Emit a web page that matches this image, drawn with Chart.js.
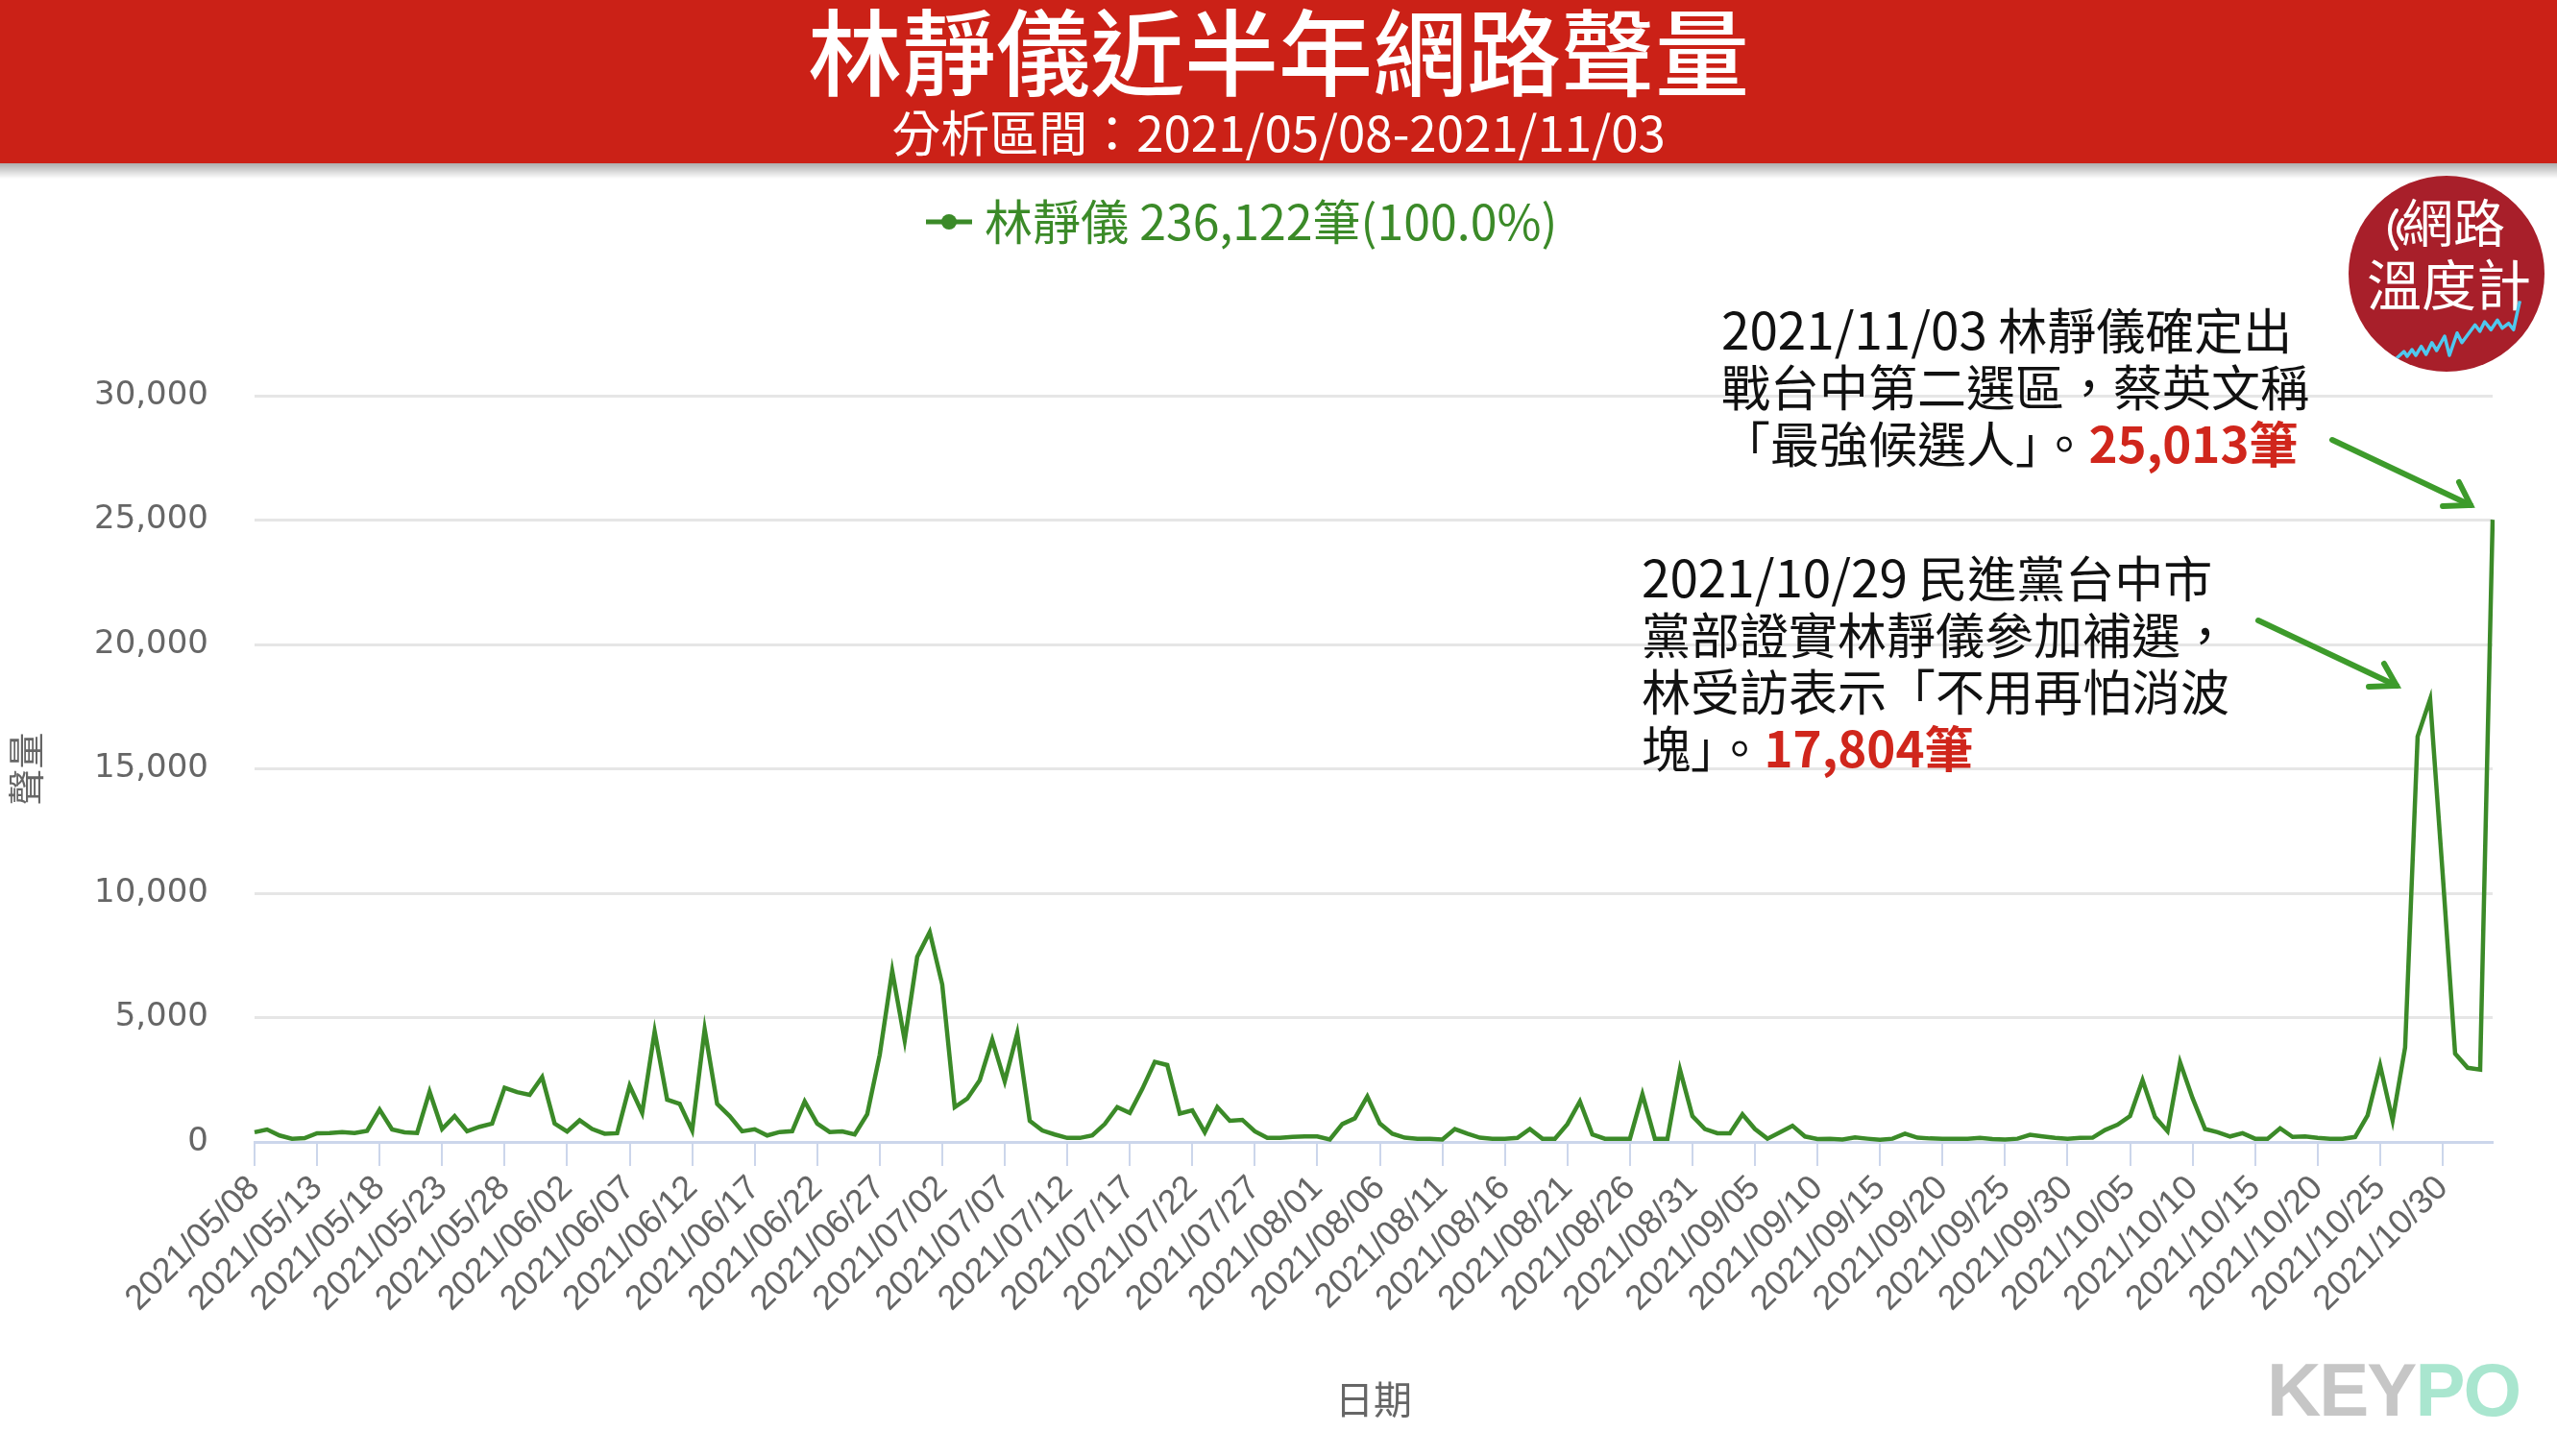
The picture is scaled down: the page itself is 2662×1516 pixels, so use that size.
<!DOCTYPE html>
<html><head><meta charset="utf-8">
<script src="https://cdn.jsdelivr.net/npm/chart.js@4.4.0/dist/chart.umd.min.js"></script>
<style>
html,body{margin:0;padding:0;background:#fff;}
#wrap{position:relative;width:2662px;height:1516px;overflow:hidden;background:#fff;font-family:"Noto Sans CJK TC","Noto Sans",sans-serif;}
#c{position:absolute;left:0;top:0;}
#header{position:absolute;left:0;top:0;width:2662px;height:170px;background:#CB2117;color:#fff;}
#shadow{position:absolute;left:0;top:170px;width:2662px;height:16px;background:linear-gradient(rgba(0,0,0,0.32),rgba(0,0,0,0));}
.ctr{position:absolute;left:0;width:100%;text-align:center;white-space:nowrap;}
#title{top:0px;font-size:98px;line-height:98px;font-weight:500;}
#sub{top:109px;font-size:51px;line-height:54px;}
#legend{position:absolute;left:964px;top:199px;height:58px;white-space:nowrap;}
#legend .txt{position:absolute;left:61px;top:0;font-size:50px;line-height:58px;color:#3B8A28;}
#legend svg{position:absolute;left:0;top:17px;}
.note{position:absolute;font-size:51px;line-height:59px;color:#111;white-space:nowrap;}
.note .n{font-size:53px;}
.note b{color:#D0261C;font-weight:700;}
#logo{position:absolute;left:2445px;top:183px;width:204px;height:204px;border-radius:50%;background:#A81F2A;overflow:hidden;}
#logo .l{position:absolute;color:#fff;line-height:60px;font-weight:400;white-space:nowrap;}
#keypo{position:absolute;left:2360px;top:1408px;font-family:"Liberation Sans",sans-serif;font-weight:700;font-size:78px;line-height:78px;letter-spacing:-2px;}
#arrows{position:absolute;left:0;top:0;}
</style></head>
<body>
<div id="wrap">
<canvas id="c" width="2662" height="1516"></canvas>
<div id="header">
  <div id="title" class="ctr">林靜儀近半年網路聲量</div>
  <div id="sub" class="ctr">分析區間：2021/05/08-2021/11/03</div>
</div>
<div id="shadow"></div>
<div id="legend">
  <svg width="50" height="30"><line x1="0" y1="15" x2="48" y2="15" stroke="#3B8A28" stroke-width="5"/><circle cx="24" cy="15" r="8" fill="#3B8A28"/></svg>
  <span class="txt">林靜儀 236,122筆(100.0%)</span>
</div>
<div id="logo">
  <div class="l" style="left:55px;top:17px;font-size:54px;">網路</div>
  <div class="l" style="left:19px;top:80px;font-size:57px;">溫度計</div>
  <svg width="204" height="204" style="position:absolute;left:0;top:0;">
    <g fill="none" stroke="#fff" stroke-width="4" stroke-linecap="round">
      <path d="M50 36 Q36 56 50 76"/>
      <path d="M56 46 Q48 56 56 66"/>
    </g>
    <polyline points="50,190 57.7,183 61,188 66,181 70,187 75.7,177.7 80.7,186 86.7,173.7 91.7,182 100,167 105,187 113,163.7 118,173.7 131.7,155.3 136.7,162 141.7,152 148.3,160.3 155,150.3 160,158.7 166.7,153.7 171.7,160.3 178.3,130.3" fill="none" stroke="#4FC8EE" stroke-width="3.5" stroke-linejoin="round"/>
  </svg>
</div>
<div class="note" style="left:1792px;top:312px;"><span class="n">2021/11/03</span> 林靜儀確定出<br>戰台中第二選區，蔡英文稱<br>「最強候選人」。<b>25,013筆</b></div>
<div class="note" style="left:1709px;top:570px;"><span class="n">2021/10/29</span> 民進黨台中市<br>黨部證實林靜儀參加補選，<br>林受訪表示「不用再怕消波<br>塊」。<b>17,804筆</b></div>
<svg id="arrows" width="2662" height="1516">
  <g stroke="#3D9B2B" stroke-width="6" stroke-linecap="round" fill="none">
    <line x1="2428" y1="458" x2="2572" y2="526"/>
    <polyline points="2543,527 2572,526 2560,502"/>
    <line x1="2351" y1="646" x2="2495" y2="714"/>
    <polyline points="2466,715 2495,714 2482,691"/>
  </g>
</svg>
<div id="keypo"><span style="color:#C6C6C6">KEY</span><span style="color:#A9E6CF">PO</span></div>
</div>
<script>
const dates = [
"2021/05/08","2021/05/09","2021/05/10","2021/05/11","2021/05/12","2021/05/13","2021/05/14","2021/05/15","2021/05/16","2021/05/17",
"2021/05/18","2021/05/19","2021/05/20","2021/05/21","2021/05/22","2021/05/23","2021/05/24","2021/05/25","2021/05/26","2021/05/27",
"2021/05/28","2021/05/29","2021/05/30","2021/05/31","2021/06/01","2021/06/02","2021/06/03","2021/06/04","2021/06/05","2021/06/06",
"2021/06/07","2021/06/08","2021/06/09","2021/06/10","2021/06/11","2021/06/12","2021/06/13","2021/06/14","2021/06/15","2021/06/16",
"2021/06/17","2021/06/18","2021/06/19","2021/06/20","2021/06/21","2021/06/22","2021/06/23","2021/06/24","2021/06/25","2021/06/26",
"2021/06/27","2021/06/28","2021/06/29","2021/06/30","2021/07/01","2021/07/02","2021/07/03","2021/07/04","2021/07/05","2021/07/06",
"2021/07/07","2021/07/08","2021/07/09","2021/07/10","2021/07/11","2021/07/12","2021/07/13","2021/07/14","2021/07/15","2021/07/16",
"2021/07/17","2021/07/18","2021/07/19","2021/07/20","2021/07/21","2021/07/22","2021/07/23","2021/07/24","2021/07/25","2021/07/26",
"2021/07/27","2021/07/28","2021/07/29","2021/07/30","2021/07/31","2021/08/01","2021/08/02","2021/08/03","2021/08/04","2021/08/05",
"2021/08/06","2021/08/07","2021/08/08","2021/08/09","2021/08/10","2021/08/11","2021/08/12","2021/08/13","2021/08/14","2021/08/15",
"2021/08/16","2021/08/17","2021/08/18","2021/08/19","2021/08/20","2021/08/21","2021/08/22","2021/08/23","2021/08/24","2021/08/25",
"2021/08/26","2021/08/27","2021/08/28","2021/08/29","2021/08/30","2021/08/31","2021/09/01","2021/09/02","2021/09/03","2021/09/04",
"2021/09/05","2021/09/06","2021/09/07","2021/09/08","2021/09/09","2021/09/10","2021/09/11","2021/09/12","2021/09/13","2021/09/14",
"2021/09/15","2021/09/16","2021/09/17","2021/09/18","2021/09/19","2021/09/20","2021/09/21","2021/09/22","2021/09/23","2021/09/24",
"2021/09/25","2021/09/26","2021/09/27","2021/09/28","2021/09/29","2021/09/30","2021/10/01","2021/10/02","2021/10/03","2021/10/04",
"2021/10/05","2021/10/06","2021/10/07","2021/10/08","2021/10/09","2021/10/10","2021/10/11","2021/10/12","2021/10/13","2021/10/14",
"2021/10/15","2021/10/16","2021/10/17","2021/10/18","2021/10/19","2021/10/20","2021/10/21","2021/10/22","2021/10/23","2021/10/24",
"2021/10/25","2021/10/26","2021/10/27","2021/10/28","2021/10/29","2021/10/30","2021/10/31","2021/11/01","2021/11/02","2021/11/03"
];
const volume = [
390,500,260,130,150,350,360,400,360,450,
1300,500,390,360,2020,520,1040,430,610,740,
2180,2000,1890,2610,740,420,870,520,330,350,
2260,1170,4440,1700,1530,460,4530,1530,1040,430,
510,260,400,430,1630,740,400,420,300,1110,
3500,6880,4080,7440,8440,6330,1400,1740,2480,4110,
2440,4370,850,460,300,160,160,260,720,1400,
1170,2130,3220,3090,1140,1270,390,1400,850,890,
430,160,160,200,220,220,100,720,950,1830,
740,330,170,130,130,100,520,330,170,130,
130,160,520,130,130,720,1630,300,130,130,
130,1920,130,130,2910,1040,520,350,350,1110,
520,130,390,650,220,120,130,100,180,130,
90,130,330,170,140,130,130,130,160,120,
100,130,290,220,160,130,160,170,480,690,
1040,2480,1000,430,3200,1760,520,390,220,350,
130,130,550,200,220,160,130,130,200,1070,
3080,870,3800,16300,17804,10800,3550,2980,2910,25013
];
const tickLabels = [
"2021/05/08","2021/05/13","2021/05/18","2021/05/23","2021/05/28","2021/06/02","2021/06/07","2021/06/12","2021/06/17","2021/06/22",
"2021/06/27","2021/07/02","2021/07/07","2021/07/12","2021/07/17","2021/07/22","2021/07/27","2021/08/01","2021/08/06","2021/08/11",
"2021/08/16","2021/08/21","2021/08/26","2021/08/31","2021/09/05","2021/09/10","2021/09/15","2021/09/20","2021/09/25","2021/09/30",
"2021/10/05","2021/10/10","2021/10/15","2021/10/20","2021/10/25","2021/10/30"
];
const seriesName = "林靜儀";

Chart.defaults.font.family = "'Noto Sans CJK TC','Noto Sans',sans-serif";
new Chart(document.getElementById('c'), {
  type: 'line',
  data: {
    labels: dates,
    datasets: [{
      label: seriesName,
      data: volume,
      borderColor: '#3B8A28',
      backgroundColor: '#3B8A28',
      borderWidth: 4.5,
      pointRadius: 0,
      pointHoverRadius: 0,
      tension: 0,
      fill: false
    }]
  },
  options: {
    responsive: false,
    devicePixelRatio: 1,
    animation: false,
    layout: { padding: { top: 412, right: 67, bottom: 0, left: 0 } },
    plugins: { legend: { display: false }, tooltip: { enabled: false } },
    scales: {
      x: {
        afterFit: (s) => { s.height = 327; },
        afterBuildTicks: (s) => { s.ticks = s.ticks.filter(t => tickLabels.includes(dates[t.value])); },
        grid: { drawOnChartArea: false, drawTicks: true, tickLength: 25, color: '#ccd6eb', lineWidth: 2 },
        border: { display: true, color: '#ccd6eb', width: 3 },
        ticks: { autoSkip: false, maxRotation: 45, minRotation: 45, padding: 2, color: '#666',
                 font: { family: "'Liberation Sans',sans-serif", size: 36 } },
        title: { display: true, text: '日期', color: '#666', font: { size: 40 }, padding: { top: 0, bottom: 35 } }
      },
      y: {
        min: 0, max: 30000,
        afterFit: (s) => { s.width = 265; },
        grid: { color: '#e6e6e6', lineWidth: 3, drawTicks: false },
        border: { display: false },
        ticks: { stepSize: 5000, padding: 48, color: '#666', font: { family: "'DejaVu Sans',sans-serif", size: 34 },
                 callback: (v) => v.toLocaleString('en-US') },
        title: { display: true, text: '聲量', color: '#666', font: { size: 38 }, padding: { top: 4, bottom: 0 } }
      }
    }
  }
});
</script>
</body></html>
